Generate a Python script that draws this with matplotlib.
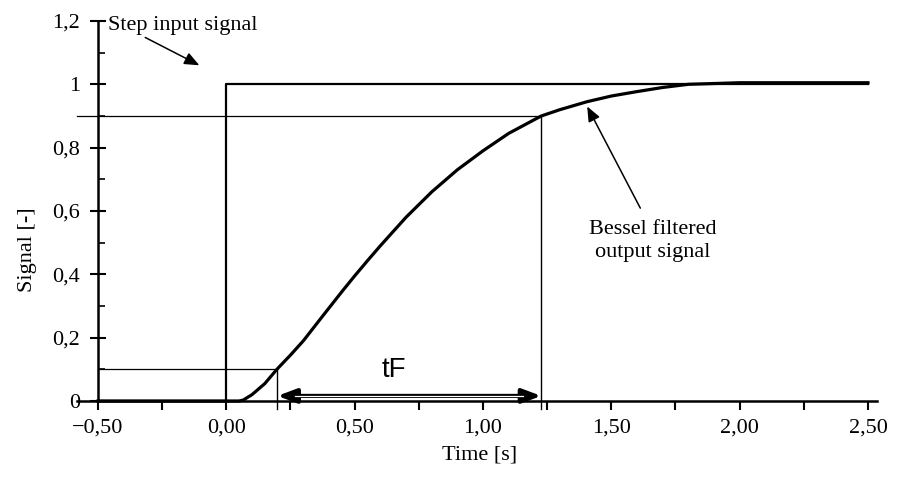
import matplotlib
matplotlib.use('Agg')
import matplotlib.pyplot as plt
from matplotlib.ticker import FixedLocator, FuncFormatter

plt.rcParams['font.family'] = ['Liberation Serif', 'DejaVu Serif']

# data
x_ticks = [-0.5, 0.0, 0.5, 1.0, 1.5, 2.0, 2.5]
x_minor = [-0.25, 0.25, 0.75, 1.25, 1.75, 2.25]
y_ticks = [0.0, 0.2, 0.4, 0.6, 0.8, 1.0, 1.2]
y_tick_labels = ['0', '0,2', '0,4', '0,6', '0,8', '1', '1,2']
y_minor = [0.1, 0.3, 0.5, 0.7, 0.9, 1.1]

step_t = [-0.5, 0.0, 0.0, 2.5]
step_y = [0.0, 0.0, 1.0, 1.0]

bessel_t = [-0.5, 0.05, 0.066, 0.1, 0.15, 0.197, 0.25, 0.3, 0.379, 0.45,
            0.5, 0.55, 0.6, 0.7, 0.8, 0.9, 1.0, 1.1, 1.227, 1.3, 1.405,
            1.5, 1.6, 1.7, 1.8, 2.0, 2.5]
bessel_y = [0.0, 0.0, 0.003, 0.02, 0.055, 0.1, 0.145, 0.19, 0.272, 0.345,
            0.395, 0.443, 0.49, 0.58, 0.66, 0.73, 0.79, 0.845, 0.9, 0.92,
            0.945, 0.963, 0.977, 0.99, 1.0, 1.005, 1.005]

t10, t90 = 0.199, 1.227
lvl10, lvl90 = 0.1, 0.9

fig = plt.figure(figsize=(8.99, 4.8), dpi=100)
ax = fig.add_axes([0.109, 0.1646, 0.8565, 0.7917])

ax.plot(step_t, step_y, color='k', lw=1.6, clip_on=False, zorder=3)
ax.plot(bessel_t, bessel_y, color='k', lw=2.3, clip_on=False, zorder=4)

# 10 % / 90 % marker lines
ax.plot([-0.58, t90], [lvl90, lvl90], color='k', lw=0.9, clip_on=False)
ax.plot([t90, t90], [lvl90, -0.025], color='k', lw=1.0, clip_on=False)
ax.plot([-0.5, t10], [lvl10, lvl10], color='k', lw=0.9, clip_on=False)
ax.plot([t10, t10], [lvl10, -0.025], color='k', lw=1.0, clip_on=False)

# tF double arrow
ax.annotate('', xy=(t10, 0.016), xytext=(t90, 0.016),
            arrowprops=dict(arrowstyle='<|-|>,head_length=0.8,head_width=0.3',
                            mutation_scale=14, lw=3, color='k',
                            shrinkA=0, shrinkB=0))
ax.plot([t10 + 0.07, t90 - 0.07], [0.016, 0.016], color='white', lw=0.9, zorder=5)
ax.text(0.651, 0.098, 'tF', family=['Liberation Sans', 'DejaVu Sans'],
        fontsize=20, ha='center', va='center')

ax.text(-0.46, 1.186, 'Step input signal', fontsize=16, va='center')
ax.annotate('', xy=(-0.105, 1.06), xytext=(-0.316, 1.148),
            arrowprops=dict(arrowstyle='-|>,head_length=0.6,head_width=0.25',
                            mutation_scale=15, lw=1.1, color='k',
                            shrinkA=0, shrinkB=0))

ax.text(1.663, 0.505, 'Bessel filtered\noutput signal', fontsize=16,
        ha='center', va='center', linespacing=1.25)
ax.annotate('', xy=(1.406, 0.93), xytext=(1.613, 0.609),
            arrowprops=dict(arrowstyle='-|>,head_length=0.6,head_width=0.25',
                            mutation_scale=15, lw=1.1, color='k',
                            shrinkA=0, shrinkB=0))

ax.set_xlim(-0.5, 2.5)
ax.set_ylim(0, 1.2)
ax.spines['top'].set_visible(False)
ax.spines['right'].set_visible(False)
for s in ['left', 'bottom']:
    ax.spines[s].set_linewidth(1.8)
ax.spines['bottom'].set_bounds(-0.58, 2.535)

ax.xaxis.set_major_locator(FixedLocator(x_ticks))
ax.xaxis.set_minor_locator(FixedLocator(x_minor))
ax.xaxis.set_major_formatter(FuncFormatter(
    lambda v, _: f"{v:.2f}".replace('.', ',').replace('-', '\u2212')))
ax.set_yticks(y_ticks)
ax.set_yticklabels(y_tick_labels)
ax.yaxis.set_minor_locator(FixedLocator(y_minor))

ax.tick_params(axis='x', which='both', direction='out', length=6.5, width=1.5,
               pad=6, labelsize=16)
ax.tick_params(axis='y', which='major', direction='inout', length=12, width=1.5,
               pad=7, labelsize=16)
ax.tick_params(axis='y', which='minor', direction='in', length=5, width=1.2)

ax.set_xlabel('Time [s]', fontsize=16)
ax.xaxis.set_label_coords(0.496, -0.118)
ax.set_ylabel('Signal [-]', fontsize=16)
ax.yaxis.set_label_coords(-0.079, 0.397)

fig.savefig('out.png', dpi=100)
